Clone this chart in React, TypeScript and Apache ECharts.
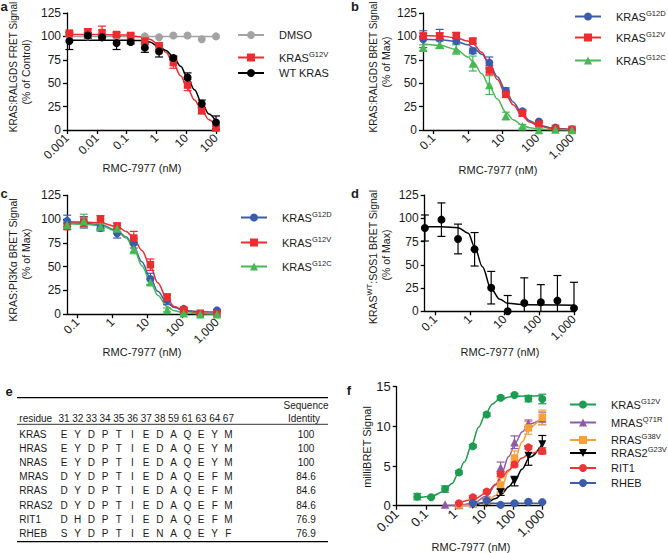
import React, { useEffect, useRef } from 'react';
import * as echarts from 'echarts';

const FONT = '"Liberation Sans", Arial, Helvetica, sans-serif';
const TXT = '#1a1a1a';

// ---------- Panel a ----------
const tickLabelsA = ['0.001', '0.01', '0.1', '1', '10', '100'];
const concA = [0.0012, 0.005, 0.015, 0.046, 0.137, 0.41, 1.23, 3.7, 11.1, 33.3, 100];
const aDMSO = [100, 100, 100, 100, 100, 100, 99, 101, 101, 97, 100];
const aG12V = [103.5, 105, 104, 102, 101, 95, 89.5, 72, 48, 20.5, 2];
const aG12VErr = [2, 3, 7, 2, 2, 4, 4, 6, 6, 3, 2];
const aWT = [95, 101, 99, 93, 94, 88, 84, 77, 56, 28, 8];
const aWTErr = [9, 3, 3, 7, 2, 5, 6, 2, 5, 4, 7];
const fitXA = [0.0012, 0.01, 0.1, 0.3, 0.6, 1.2, 2.1, 3.7, 6.5, 11, 19, 33, 58, 100];
const fitA_G12V = [102, 102, 101.5, 99.5, 97, 91, 83, 71, 58, 45, 32, 21, 11, 4];
const fitA_WT = [96, 96, 96, 95.5, 94, 89, 85, 78, 68, 56, 43, 29, 17, 9];
const fitXA_DMSO = [0.0012, 100];
const fitA_DMSO = [100, 100];

// ---------- Panels b, c, d ----------
const tickLabelsBCD = ['0.1', '1', '10', '100', '1,000'];
const concBCD = [0.0508, 0.152, 0.457, 1.37, 4.12, 12.3, 37, 111, 333, 1000];
const bG12D = [97, 97.5, 95, 84.5, 72, 42, 20, 9, 2.5, 0.7];
const bG12DErr = [9, 10, 3, 3, 6, 3, 2, 1, 0, 0];
const bG12V = [100.5, 100, 101, 95, 64, 38, 18, 6.4, 1.8, 0.7];
const bG12VErr = [3, 4, 3, 3, 5, 3, 3, 2, 1, 0];
const bG12C = [88, 91, 86, 71, 48, 15, 4, 0, 0.5, 0];
const bG12CErr = [3, 4, 5, 8, 10, 4, 2, 1, 0, 0];
const fitXB = [0.0508, 0.152, 0.457, 1, 1.4, 2.5, 4.1, 7, 12.3, 20, 37, 60, 111, 333, 1000];
const fitB_G12D = [97, 96.5, 94.5, 91, 88, 81, 71, 57, 42, 30, 17, 10, 5, 1.5, 0.5];
const fitB_G12V = [101, 100.5, 98.5, 95, 92, 83, 70, 54, 38, 27, 15, 8.5, 4, 1, 0.3];
const fitB_G12C = [92, 90.5, 86, 78, 73, 60, 47, 33, 19, 11, 5, 2.5, 1, 0.3, 0];

const cG12D = [98, 96.5, 90.4, 85, 74.5, 37, 15, 5.6, 0, 4];
const cG12DErr = [6, 6, 3, 5, 5, 6, 5, 1, 0, 1];
const cG12V = [92, 97, 99.6, 92.7, 80, 52, 17.5, 4.5, 1, 0.3];
const cG12VErr = [3, 5, 4, 3, 7, 6, 4, 2, 1, 0];
const cG12C = [94, 98, 92, 90, 68.5, 33.5, 4.5, 1, 0, 0];
const cG12CErr = [2, 7, 3, 3, 5, 3, 2, 1, 0, 0];
const fitXC = [0.0508, 0.152, 0.457, 1.37, 2.5, 4.1, 7, 12.3, 20, 37, 60, 111, 333, 1000];
const fitC_G12D = [96, 95.5, 94, 88, 81, 71, 55, 38, 24, 12, 7, 4, 2.5, 2];
const fitC_G12V = [97, 96.8, 96, 92, 87, 80, 67, 50, 33, 16, 8, 3.5, 1, 0.5];
const fitC_G12C = [95, 94.5, 93, 87, 80, 69, 51, 34, 20, 8, 3.5, 1.5, 0.5, 0.2];

const dKRASWT = [89.6, 98.6, 77.8, 66.7, 25.4, 0, 9, 9.7, 11.5, 3.2];
const dErr = [14, 18, 16, 18, 17.5, 17, 27, 19, 27, 28];
const fitXD = [0.0508, 0.152, 0.457, 0.9, 1.37, 2.3, 4.1, 7.3, 12.3, 37, 1000];
const fitD = [91, 91, 90, 84, 69.5, 48, 24, 13, 8.6, 7, 6.5];

// ---------- Panel f ----------
const tickLabelsF = ['0.01', '0.1', '1', '10', '100', '1,000'];
const concF = [0.0508, 0.152, 0.457, 1.37, 4.12, 12.3, 37, 111, 333, 1000];
const fKRAS = [1.14, 1.06, 2.1, 4.2, 7.5, 11.5, 13.6, 13.95, 13.5, 13.45];
const fKRASErr = [0.4, 0.1, 0.4, 0.2, 0.2, 0.2, 0.2, 0.2, 0.4, 0.6];
const concMRAS = [0.457, 1.37, 4.12, 12.3, 37, 111, 333, 1000];
const fMRAS = [0.15, 0.1, 0.3, 0.9, 4.8, 8.0, 10.4, 11.0];
const fMRASErr = [0, 0, 0.1, 0.2, 0.7, 0.8, 0.4, 0.8];
const concRRAS = [1.37, 4.12, 12.3, 37, 111, 333, 1000];
const fRRAS = [0.1, 0.2, 0.6, 2.6, 6.0, 9.8, 11.15];
const fRRASErr = [0, 0, 0.2, 0.9, 0.9, 0.8, 0.9];
const concRRAS2 = [4.12, 12.3, 37, 111, 333, 1000];
const fRRAS2 = [0.1, 0.3, 1.7, 3.1, 6.3, 7.75];
const fRRAS2Err = [0, 0.1, 0.4, 0.6, 1.2, 1.1];
const concRIT1 = [1.37, 4.12, 12.3, 37, 111, 333, 1000];
const fRIT1 = [0.3, 1.06, 1.77, 4.0, 5.2, 7.35, 6.9];
const fRIT1Err = [0.1, 0.2, 0.2, 0.3, 0.3, 0.2, 0.4];
const concRHEB = [4.12, 12.3, 37, 111, 333, 1000];
const fRHEB = [0.3, 0.63, 0.1, 0.3, 0.5, 0.45];
const fRHEBErr = [0.1, 0.2, 0.1, 0.1, 0.1, 0.1];
const fitXF_KRAS = [0.0508, 0.152, 0.41, 0.8, 1.23, 2.1, 3.7, 6.5, 11.1, 19, 33, 100, 1000];
const fitF_KRAS = [1.0, 1.15, 1.8, 2.8, 3.9, 5.5, 7.6, 9.9, 11.5, 12.8, 13.4, 13.8, 13.85];
const fitXF_MRAS = [0.457, 1.37, 4.12, 12.3, 25, 41, 70, 123, 200, 370, 1000];
const fitF_MRAS = [0, 0.05, 0.3, 1.2, 2.6, 4.2, 6.2, 8.0, 9.3, 10.3, 11.0];
const fitXF_RRAS = [1.37, 4.12, 12.3, 25, 41, 70, 123, 200, 370, 1000];
const fitF_RRAS = [0, 0.1, 0.5, 1.3, 2.5, 4.3, 6.2, 8.0, 9.9, 11.3];
const fitXF_RRAS2 = [4.12, 12.3, 25, 41, 70, 123, 200, 370, 1000];
const fitF_RRAS2 = [0, 0.4, 0.9, 1.5, 2.4, 3.4, 4.6, 6.1, 7.8];
const fitXF_RIT1 = [1.37, 4.12, 12.3, 25, 41, 70, 123, 200, 370, 1000];
const fitF_RIT1 = [0.35, 0.75, 1.6, 2.7, 3.6, 4.5, 5.3, 6.0, 6.6, 7.1];
const fitXF_RHEB = [4.12, 1000];
const fitF_RHEB = [0.3, 0.3];

// ---------- Panel e (table) ----------
const tableResidueNumbers = ['31', '32', '33', '34', '35', '36', '37', '38', '59', '61', '63', '64', '67'];
const tableProteins = ['KRAS', 'HRAS', 'NRAS', 'MRAS', 'RRAS', 'RRAS2', 'RIT1', 'RHEB'];
const tableSequences = [
  'EYDPTIEDAQEYM', 'EYDPTIEDAQEYM', 'EYDPTIEDAQEYM', 'DYDPTIEDAQEFM',
  'DYDPTIEDAQEFM', 'DYDPTIEDAQEFM', 'DHDPTIEDAQEFM', 'SYDPTIENAQEYF',
];
const tableIdentity = ['100', '100', '100', '84.6', '84.6', '84.6', '76.9', '76.9'];

// ---------- colours ----------
const RED = '#ee2b2f';
const BLUE = '#3b5cae';
const GREEN_L = '#46b955';
const GRAY = '#a3a3a3';
const F_GREEN = '#1d9c4f';
const F_PURPLE = '#8d5ba3';
const F_ORANGE = '#f7a038';
const F_RED = '#ee3535';
const F_BLUE = '#3a5dae';
const INV_TRI = 'path://M0,0L10,0L5,9Z';

type SeriesDef = {
  key: string; main: string; sup?: string; color: string; symbol: string; size: number;
  x: number[]; y: number[]; err?: number[]; fitX: number[]; fitY: number[];
};
type PanelDef = {
  grid: { left: number; top: number; width: number; height: number };
  xMin: number; xMax: number; yMax: number; yInterval: number;
  ticks: string[]; tickFont: number; series: SeriesDef[];
  legend?: { left: number; cy: number[] };
};

const panels: PanelDef[] = [
  {
    grid: { left: 67, top: 13, width: 149, height: 117 }, xMin: -3, xMax: 2, yMax: 125, yInterval: 25,
    ticks: tickLabelsA, tickFont: 12,
    legend: { left: 237, cy: [36, 58, 74] },
    series: [
      { key: 'a_DMSO', main: 'DMSO', color: GRAY, symbol: 'circle', size: 8, x: concA, y: aDMSO, fitX: fitXA_DMSO, fitY: fitA_DMSO },
      { key: 'a_G12V', main: 'KRAS', sup: 'G12V', color: RED, symbol: 'rect', size: 7.5, x: concA, y: aG12V, err: aG12VErr, fitX: fitXA, fitY: fitA_G12V },
      { key: 'a_WT', main: 'WT KRAS', color: '#000', symbol: 'circle', size: 8, x: concA, y: aWT, err: aWTErr, fitX: fitXA, fitY: fitA_WT },
    ],
  },
  {
    grid: { left: 423, top: 13, width: 149, height: 117 }, xMin: -1.3, xMax: 3, yMax: 125, yInterval: 25,
    ticks: tickLabelsBCD, tickFont: 12,
    legend: { left: 574, cy: [17, 38, 61] },
    series: [
      { key: 'b_G12D', main: 'KRAS', sup: 'G12D', color: BLUE, symbol: 'circle', size: 8, x: concBCD, y: bG12D, err: bG12DErr, fitX: fitXB, fitY: fitB_G12D },
      { key: 'b_G12V', main: 'KRAS', sup: 'G12V', color: RED, symbol: 'rect', size: 7.5, x: concBCD, y: bG12V, err: bG12VErr, fitX: fitXB, fitY: fitB_G12V },
      { key: 'b_G12C', main: 'KRAS', sup: 'G12C', color: GREEN_L, symbol: 'triangle', size: 8.5, x: concBCD, y: bG12C, err: bG12CErr, fitX: fitXB, fitY: fitB_G12C },
    ],
  },
  {
    grid: { left: 67, top: 195.2, width: 150, height: 119 }, xMin: -1.3, xMax: 3, yMax: 125, yInterval: 25,
    ticks: tickLabelsBCD, tickFont: 12,
    legend: { left: 240, cy: [218, 243, 267] },
    series: [
      { key: 'c_G12D', main: 'KRAS', sup: 'G12D', color: BLUE, symbol: 'circle', size: 8, x: concBCD, y: cG12D, err: cG12DErr, fitX: fitXC, fitY: fitC_G12D },
      { key: 'c_G12V', main: 'KRAS', sup: 'G12V', color: RED, symbol: 'rect', size: 7.5, x: concBCD, y: cG12V, err: cG12VErr, fitX: fitXC, fitY: fitC_G12V },
      { key: 'c_G12C', main: 'KRAS', sup: 'G12C', color: GREEN_L, symbol: 'triangle', size: 8.5, x: concBCD, y: cG12C, err: cG12CErr, fitX: fitXC, fitY: fitC_G12C },
    ],
  },
  {
    grid: { left: 424.7, top: 195.1, width: 149.3, height: 116.2 }, xMin: -1.3, xMax: 3, yMax: 125, yInterval: 25,
    ticks: tickLabelsBCD, tickFont: 12,
    series: [
      { key: 'd_WT', main: 'KRAS WT', color: '#000', symbol: 'circle', size: 8, x: concBCD, y: dKRASWT, err: dErr, fitX: fitXD, fitY: fitD },
    ],
  },
  {
    grid: { left: 396.7, top: 386.7, width: 145.6, height: 119 }, xMin: -2, xMax: 3, yMax: 15, yInterval: 5,
    ticks: tickLabelsF, tickFont: 13,
    legend: { left: 569, cy: [405, 423, 440.5, 453.5, 469, 484] },
    series: [
      { key: 'f_KRAS', main: 'KRAS', sup: 'G12V', color: F_GREEN, symbol: 'circle', size: 8, x: concF, y: fKRAS, err: fKRASErr, fitX: fitXF_KRAS, fitY: fitF_KRAS },
      { key: 'f_MRAS', main: 'MRAS', sup: 'Q71R', color: F_PURPLE, symbol: 'triangle', size: 8.5, x: concMRAS, y: fMRAS, err: fMRASErr, fitX: fitXF_MRAS, fitY: fitF_MRAS },
      { key: 'f_RRAS', main: 'RRAS', sup: 'G38V', color: F_ORANGE, symbol: 'rect', size: 7.5, x: concRRAS, y: fRRAS, err: fRRASErr, fitX: fitXF_RRAS, fitY: fitF_RRAS },
      { key: 'f_RRAS2', main: 'RRAS2', sup: 'G23V', color: '#000', symbol: INV_TRI, size: 8, x: concRRAS2, y: fRRAS2, err: fRRAS2Err, fitX: fitXF_RRAS2, fitY: fitF_RRAS2 },
      { key: 'f_RIT1', main: 'RIT1', color: F_RED, symbol: 'circle', size: 8, x: concRIT1, y: fRIT1, err: fRIT1Err, fitX: fitXF_RIT1, fitY: fitF_RIT1 },
      { key: 'f_RHEB', main: 'RHEB', color: F_BLUE, symbol: 'circle', size: 8, x: concRHEB, y: fRHEB, err: fRHEBErr, fitX: fitXF_RHEB, fitY: fitF_RHEB },
    ],
  },
];

const rich = {
  n: { fontSize: 11, fontFamily: FONT, color: TXT, padding: [0, 0, 0, 10] },
  s: { fontSize: 7.5, fontFamily: FONT, color: TXT, padding: [0, 0, 7, 0] },
};

function errRender(color: string) {
  return (params: any, api: any) => {
    const x = api.value(0);
    const lo = api.value(1);
    const hi = api.value(2);
    const capLo = api.value(3);
    const t = api.coord([x, hi]);
    const b = api.coord([x, lo]);
    const hw = 4;
    const children: any[] = [
      { type: 'line', shape: { x1: t[0], y1: t[1], x2: b[0], y2: b[1] }, style: { stroke: color, lineWidth: 1.2 } },
      { type: 'line', shape: { x1: t[0] - hw, y1: t[1], x2: t[0] + hw, y2: t[1] }, style: { stroke: color, lineWidth: 1.2 } },
    ];
    if (capLo) {
      children.push({ type: 'line', shape: { x1: b[0] - hw, y1: b[1], x2: b[0] + hw, y2: b[1] }, style: { stroke: color, lineWidth: 1.2 } });
    }
    return { type: 'group', children };
  };
}

function buildOption() {
  const grid: any[] = [];
  const xAxis: any[] = [];
  const yAxis: any[] = [];
  const series: any[] = [];
  const legend: any[] = [];
  const labelMap: Record<string, string> = {};

  panels.forEach((p, i) => {
    grid.push({ ...p.grid });
    const tickVals = p.ticks.map((t) => Math.log10(Number(t.replace(/,/g, ''))));
    const axisLineStyle = { color: '#000', width: 1.3 };
    xAxis.push({
      type: 'value', gridIndex: i, min: p.xMin, max: p.xMax,
      axisLine: { show: true, onZero: false, lineStyle: axisLineStyle },
      axisTick: { show: true, customValues: tickVals, length: 4, lineStyle: axisLineStyle },
      axisLabel: {
        customValues: tickVals, rotate: 45, margin: 6, fontSize: p.tickFont, fontFamily: FONT, color: TXT,
        formatter: (v: number) => {
          const idx = tickVals.findIndex((tv) => Math.abs(tv - v) < 1e-6);
          return idx >= 0 ? p.ticks[idx] : '';
        },
      },
      splitLine: { show: false },
    });
    yAxis.push({
      type: 'value', gridIndex: i, min: 0, max: p.yMax, interval: p.yInterval,
      axisLine: { show: true, onZero: false, lineStyle: axisLineStyle },
      axisTick: { show: true, length: 4, lineStyle: axisLineStyle },
      axisLabel: { margin: 6, fontSize: p.tickFont, fontFamily: FONT, color: TXT },
      splitLine: { show: false },
    });

    p.series.forEach((s, k) => {
      labelMap[s.key] = s.sup ? `{n|${s.main}}{s|${s.sup}}` : `{n|${s.main}}`;
      if (s.err) {
        const errData = s.x
          .map((x, j) => {
            const e = s.err![j];
            const lo = s.y[j] - e;
            return { e, d: [Math.log10(x), Math.max(0, lo), s.y[j] + e, lo >= 0 ? 1 : 0] };
          })
          .filter((o) => o.e > 0)
          .map((o) => o.d);
        series.push({
          type: 'custom', name: s.key + '_err', xAxisIndex: i, yAxisIndex: i, silent: true, z: 3,
          renderItem: errRender(s.color), data: errData, encode: { x: 0, y: [1, 2] },
        });
      }
      series.push({
        type: 'line', name: s.key, xAxisIndex: i, yAxisIndex: i, silent: true, z: 2,
        data: s.fitX.map((x, j) => [Math.log10(x), s.fitY[j]]),
        smooth: 0.35, smoothMonotone: 'x', showSymbol: false,
        symbol: s.symbol, symbolSize: s.size,
        lineStyle: { color: s.color, width: 1.5 }, itemStyle: { color: s.color },
      });
      series.push({
        type: 'scatter', name: s.key + '_pts', xAxisIndex: i, yAxisIndex: i, silent: true, z: 4,
        data: s.x.map((x, j) => [Math.log10(x), s.y[j]]),
        symbol: s.symbol, symbolSize: s.size, itemStyle: { color: s.color, opacity: 1 },
      });
      if (p.legend) {
        legend.push({
          data: [s.key], left: p.legend.left, top: p.legend.cy[k] - (s.sup ? 8 : 6.5),
          orient: 'vertical', itemWidth: 26, itemHeight: 10, padding: 0, selectedMode: false,
          formatter: (name: string) => labelMap[name],
          textStyle: { fontSize: 11, fontFamily: FONT, color: TXT, rich },
        });
      }
    });
  });

  const g: any[] = [];
  const txt = (x: number, y: number, text: string, o: any = {}) => ({
    type: 'text', x, y, rotation: o.rotation || 0, silent: true,
    style: {
      text, fontSize: o.fontSize || 11, fontFamily: FONT, fontWeight: o.fontWeight || 'normal',
      fill: TXT, align: o.align || 'center', verticalAlign: o.verticalAlign || 'middle', rich: o.rich,
    },
  });
  const R = Math.PI / 2;
  // Panel letters
  [['a', 4, 6], ['b', 355, 6], ['c', 4, 193], ['d', 355, 193], ['e', 9, 391], ['f', 349, 390]].forEach(([l, x, y]) => {
    g.push(txt(x as number, y as number, l as string, { fontSize: 13, fontWeight: 'bold' }));
  });
  // Y titles
  g.push(txt(13, 67, 'KRAS:RALGDS FRET Signal', { rotation: R, fontSize: 10 }));
  g.push(txt(26, 72, '(% of Control)', { rotation: R, fontSize: 10.5 }));
  g.push(txt(373, 67, 'KRAS:RALGDS BRET Signal', { rotation: R, fontSize: 10 }));
  g.push(txt(386, 62, '(% of Max)', { rotation: R, fontSize: 10.5 }));
  g.push(txt(13, 260, 'KRAS:PI3Kα BRET Signal', { rotation: R, fontSize: 10.5 }));
  g.push(txt(26, 254, '(% of Max)', { rotation: R, fontSize: 10.5 }));
  g.push(txt(373, 257, '{m|KRAS}{w|WT}{m|:SOS1 BRET Signal}', {
    rotation: R, fontSize: 10.5,
    rich: { m: { fontSize: 10.5, fontFamily: FONT, color: TXT }, w: { fontSize: 7.5, fontFamily: FONT, color: TXT, padding: [0, 0, 7, 0] } },
  }));
  g.push(txt(386, 255, '(% of Max)', { rotation: R, fontSize: 10.5 }));
  g.push(txt(367, 447, 'milliBRET Signal', { rotation: R, fontSize: 11 }));
  // X titles
  [[142, 168], [498, 170], [142, 352], [500, 352], [471, 547]].forEach(([x, y]) => {
    g.push(txt(x, y, 'RMC-7977 (nM)', { fontSize: 11 }));
  });

  // Table (panel e)
  const tLeft = 17, tRight = 328;
  const line = (y: number, w: number) => ({
    type: 'line', silent: true, shape: { x1: tLeft, y1: y, x2: tRight, y2: y }, style: { stroke: '#000', lineWidth: w },
  });
  g.push(line(397.7, 1.3));
  g.push(line(424.3, 0.8));
  g.push(line(541.7, 1.3));
  const colX0 = 64, colStep = 13.7, rowY0 = 434, rowStep = 14.2, idX = 306, tf = 10;
  g.push(txt(idX, 405.7, 'Sequence', { fontSize: tf }));
  g.push(txt(idX - 2, 418.3, 'Identity', { fontSize: tf }));
  g.push(txt(19.3, 418.3, 'residue', { fontSize: tf, align: 'left' }));
  tableResidueNumbers.forEach((r, c) => g.push(txt(colX0 + c * colStep, 418.3, r, { fontSize: tf })));
  tableProteins.forEach((name, r) => {
    const y = rowY0 + r * rowStep;
    g.push(txt(19.3, y, name, { fontSize: tf, align: 'left' }));
    tableSequences[r].split('').forEach((ch, c) => g.push(txt(colX0 + c * colStep, y, ch, { fontSize: tf })));
    g.push(txt(idX, y, tableIdentity[r], { fontSize: tf }));
  });

  return {
    animation: false,
    backgroundColor: '#ffffff',
    grid, xAxis, yAxis, series, legend,
    graphic: { elements: g },
  };
}

export default function App() {
  const ref = useRef<HTMLDivElement>(null);
  useEffect(() => {
    if (!ref.current) return;
    const chart = echarts.init(ref.current, null, { renderer: 'svg' });
    chart.setOption(buildOption() as any);
    return () => chart.dispose();
  }, []);
  return (
    <div
      ref={ref}
      style={{ position: 'absolute', left: 0, top: 0, width: 668, height: 553, background: '#fff' }}
    />
  );
}
